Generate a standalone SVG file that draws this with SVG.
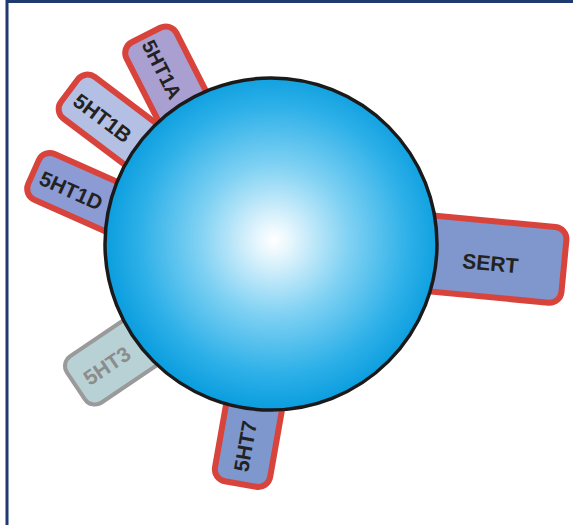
<svg xmlns="http://www.w3.org/2000/svg" width="573" height="525" viewBox="0 0 573 525">
  <defs>
    <radialGradient id="cellGrad" cx="274" cy="240" r="168" gradientUnits="userSpaceOnUse">
      <stop offset="0" stop-color="#ffffff"/>
      <stop offset="0.1" stop-color="#e6f6fd"/>
      <stop offset="0.45" stop-color="#7fd1f3"/>
      <stop offset="0.8" stop-color="#2db0e8"/>
      <stop offset="1" stop-color="#0c9edf"/>
    </radialGradient>
    <style>
      .rec { stroke: #d8433c; stroke-width: 6; }
      .lbl { font-family: "Liberation Sans", Arial, sans-serif; font-weight: bold; font-size: 21px; fill: #222222; text-anchor: middle; }
    </style>
  </defs>
  <rect x="0" y="0" width="573" height="525" fill="#ffffff"/>
  <g id="frame" fill="#1f3a6e">
    <rect x="7" y="0" width="566" height="3"/>
    <rect x="5.5" y="0" width="3" height="525"/>
  </g>

  <g id="r5HT1A" transform="translate(146,35) rotate(63)">
    <rect class="rec" x="0" y="-28" width="115" height="56" rx="12" fill="#a99fd0"/>
    <text class="lbl" x="38" y="8.5" style="font-size:20px">5HT1A</text>
  </g>
  <g id="r5HT1B" transform="translate(69.5,90.5) rotate(37)">
    <rect class="rec" x="0" y="-26" width="128" height="52" rx="12" fill="#b4bfe4"/>
    <text class="lbl" x="43" y="9.5">5HT1B</text>
  </g>
  <g id="r5HT1D" transform="translate(33.5,172) rotate(24)">
    <rect class="rec" x="0" y="-25" width="128" height="50" rx="12" fill="#8c9bd3"/>
    <text class="lbl" x="42" y="9">5HT1D</text>
  </g>
  <g id="r5HT3" transform="translate(76,386) rotate(-34)">
    <rect x="0" y="-28" width="118" height="56" rx="12" fill="#b8d1d5" stroke="#9a9a9a" stroke-width="4"/>
    <text class="lbl" x="37" y="8" style="fill:#8c8c8c">5HT3</text>
  </g>
  <g id="r5HT7" transform="translate(240.5,484) rotate(-80)">
    <rect class="rec" x="0" y="-28" width="118" height="56" rx="12" fill="#7e97cc"/>
    <text class="lbl" x="38" y="5.5">5HT7</text>
  </g>
  <g id="SERT" transform="translate(437,254) rotate(5.4)">
    <rect class="rec" x="-70" y="-38" width="197.5" height="76" rx="12" fill="#7f97cc"/>
    <text class="lbl" x="54" y="11.5">SERT</text>
  </g>

  <g id="cell">
    <circle cx="271" cy="244" r="166" fill="url(#cellGrad)" stroke="#1a1a1a" stroke-width="3.5"/>
  </g>
</svg>
